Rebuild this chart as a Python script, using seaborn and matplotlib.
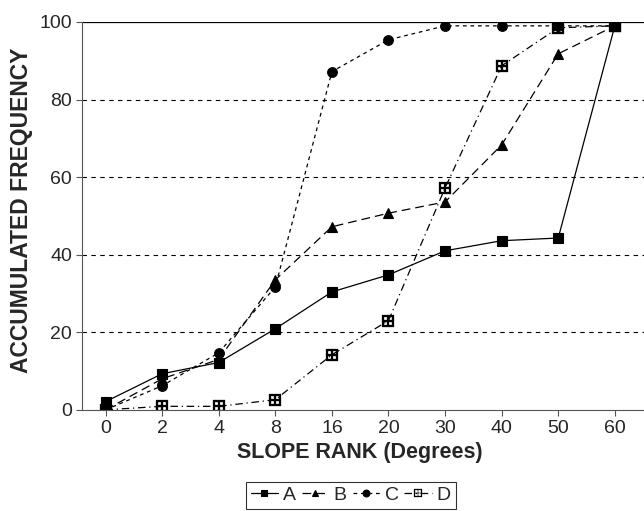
import numpy as np
import pandas as pd
import seaborn as sns
import matplotlib.pyplot as plt

slope = ["0", "2", "4", "8", "16", "20", "30", "40", "50", "60"]
a_vals = [2.1, 9.3, 12.2, 20.9, 30.4, 34.8, 41.0, 43.6, 44.3, 99.0]
b_vals = [0.0, 8.0, 13.0, 33.5, 47.2, 50.7, 53.6, 68.3, 91.8, 99.0]
c_vals = [0.0, 6.2, 14.7, 31.7, 87.2, 95.4, 99.0, 99.0, 99.0, 99.0]
d_vals = [0.0, 0.9, 0.9, 2.6, 14.2, 23.0, 57.2, 88.7, 98.5, 99.0]

series = {"A": a_vals, "B": b_vals, "C": c_vals, "D": d_vals}
styles = {
    "A": dict(linestyle="-", marker="s", markersize=7, markeredgewidth=0.8),
    "B": dict(linestyle=(0, (7, 4)), marker="^", markersize=7, markeredgewidth=0.8),
    "C": dict(linestyle=(0, (3, 3)), marker="o", markersize=7, markeredgewidth=0.8),
    "D": dict(linestyle=(0, (6, 3, 1, 3)), marker="$\\boxplus$", markersize=8,
              markeredgewidth=0.2),
}

sns.set_style("white")
plt.rcParams["font.family"] = ["Liberation Sans", "DejaVu Sans"]

fig = plt.figure(figsize=(6.44, 5.11), dpi=100)
ax = fig.add_axes([0.127, 0.198, 0.898, 0.759])

pos = np.arange(len(slope))
for name, vals in series.items():
    df = pd.DataFrame({"x": pos, "y": vals})
    sns.lineplot(data=df, x="x", y="y", ax=ax, color="black", linewidth=0.9,
                 markeredgecolor="black", markerfacecolor="black", label=name,
                 **styles[name])

ax.set_xlim(-0.42, 9.8)
ax.set_ylim(0, 100)
ax.set_xticks(pos)
ax.set_xticklabels(slope)
ax.set_yticks([0, 20, 40, 60, 80, 100])
for yv in [20, 40, 60, 80]:
    ax.axhline(yv, color="black", linewidth=0.8, linestyle=(0, (4, 4)), zorder=0)
ax.axhline(100, color="black", linewidth=0.9, zorder=0)

for s in ["top", "right"]:
    ax.spines[s].set_visible(False)
ax.spines["left"].set_color("#555555")
ax.spines["bottom"].set_color("#555555")
ax.tick_params(axis="both", which="both", direction="out", length=4, width=0.8,
               color="#555555", labelsize=14, bottom=True, left=True, pad=3)

ax.set_xlabel("SLOPE RANK (Degrees)", fontsize=15.5, fontweight="bold")
ax.set_ylabel("ACCUMULATED FREQUENCY", fontsize=16.5, fontweight="bold")
ax.xaxis.set_label_coords(0.481, -0.084)
ax.yaxis.set_label_coords(-0.085, 0.515)

leg = ax.legend(loc="upper center", bbox_to_anchor=(0.465, -0.185), ncol=4,
                frameon=True, fancybox=False, fontsize=14, handlelength=1.4,
                handletextpad=0.25, columnspacing=0.3, borderpad=0.25,
                borderaxespad=0, markerscale=0.7)
leg.get_frame().set_edgecolor("black")
leg.get_frame().set_linewidth(0.8)

fig.savefig("out.png", dpi=100)
